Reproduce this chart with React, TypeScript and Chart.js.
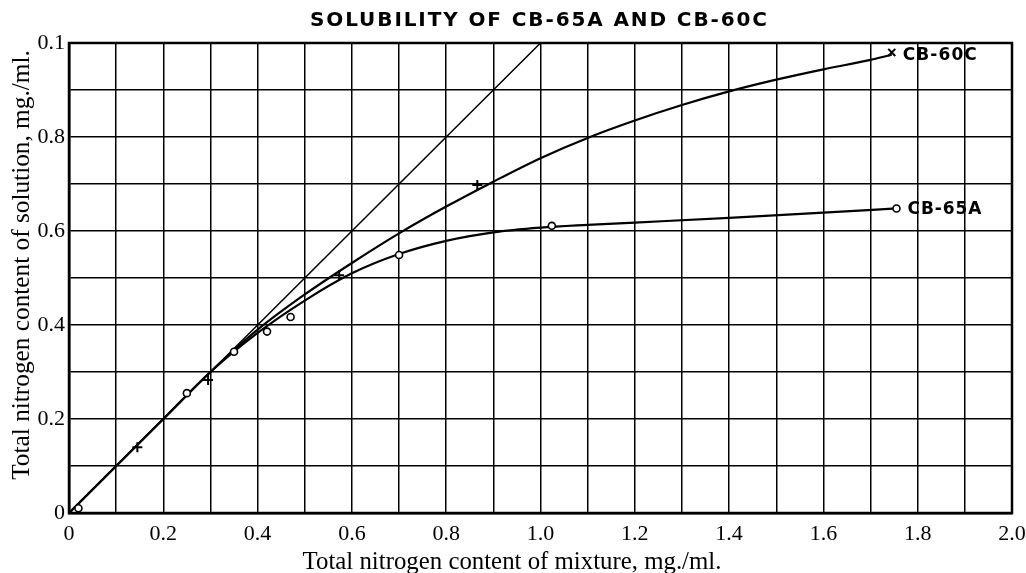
import React, { useEffect, useRef } from 'react';
import { Chart, registerables } from 'chart.js';

Chart.register(...registerables);

const titleText = 'SOLUBILITY OF CB-65A AND CB-60C';
const xAxisTitle = 'Total nitrogen content of mixture, mg./ml.';
const yAxisTitle = 'Total nitrogen content of solution, mg./ml.';
const xTickLabels = ['0', '0.2', '0.4', '0.6', '0.8', '1.0', '1.2', '1.4', '1.6', '1.8', '2.0'];
const yTickLabels = ['0', '0.2', '0.4', '0.6', '0.8', '0.1'];
const seriesNames = ['CB-65A', 'CB-60C'];

const diagonalX = [0, 1.0];
const diagonalY = [0, 1.0];

const cb65aCurveX = [0, 0.1, 0.2, 0.3, 0.4, 0.5, 0.6, 0.7, 0.8, 0.9, 1.0, 1.1, 1.2, 1.4, 1.6, 1.755];
const cb65aCurveY = [0, 0.1, 0.2, 0.3, 0.383, 0.452, 0.51, 0.551, 0.579, 0.597, 0.607, 0.613, 0.618, 0.628, 0.639, 0.648];

const cb60cCurveX = [0, 0.1, 0.2, 0.3, 0.4, 0.5, 0.6, 0.7, 0.8, 0.9, 1.0, 1.1, 1.2, 1.3, 1.4, 1.5, 1.6, 1.7, 1.745];
const cb60cCurveY = [0, 0.1, 0.2, 0.3, 0.39, 0.465, 0.532, 0.595, 0.652, 0.705, 0.755, 0.798, 0.835, 0.868, 0.897, 0.922, 0.944, 0.964, 0.975];

const cb65aPointX = [0.02, 0.25, 0.35, 0.42, 0.47, 0.7, 1.024, 1.755];
const cb65aPointY = [0.01, 0.255, 0.343, 0.386, 0.417, 0.549, 0.611, 0.648];

const cb60cPointX = [0.145, 0.295, 0.573, 0.866, 1.745];
const cb60cPointY = [0.14, 0.283, 0.506, 0.698, 0.98];
const cb60cPointStyles = ['cross', 'cross', 'cross', 'cross', 'crossRot'];

const zip = (xs: number[], ys: number[]) => xs.map((x, i) => ({ x, y: ys[i] }));

function fitText(ctx: CanvasRenderingContext2D, text: string, target: number) {
  (ctx as any).letterSpacing = '0px';
  const w0 = ctx.measureText(text).width;
  const sp = (target - w0) / (text.length - 1);
  (ctx as any).letterSpacing = `${sp}px`;
}

const annotPlugin = {
  id: 'annot',
  afterDatasetsDraw(chart: any) {
    const { ctx, chartArea, scales } = chart;
    const xs = scales.x;
    const ys = scales.y;
    ctx.save();
    // frame
    ctx.strokeStyle = '#000';
    ctx.lineWidth = 2.5;
    ctx.strokeRect(chartArea.left, chartArea.top, chartArea.right - chartArea.left, chartArea.bottom - chartArea.top);

    ctx.fillStyle = '#000';
    // title
    ctx.font = 'bold 20px "DejaVu Sans"';
    ctx.textBaseline = 'middle';
    ctx.textAlign = 'left';
    fitText(ctx, titleText, 457);
    ctx.fillText(titleText, 310, 21);

    // series labels
    ctx.font = 'bold 17px "DejaVu Sans"';
    const lx1 = xs.getPixelForValue(cb60cPointX[cb60cPointX.length - 1]);
    const ly1 = ys.getPixelForValue(cb60cPointY[cb60cPointY.length - 1]);
    fitText(ctx, seriesNames[1], 74);
    ctx.fillText(seriesNames[1], lx1 + 11, ly1 + 3);
    const lx2 = xs.getPixelForValue(cb65aPointX[cb65aPointX.length - 1]);
    const ly2 = ys.getPixelForValue(cb65aPointY[cb65aPointY.length - 1]);
    fitText(ctx, seriesNames[0], 74);
    ctx.fillText(seriesNames[0], lx2 + 11, ly2 + 1);
    (ctx as any).letterSpacing = '0px';

    // axis titles
    ctx.font = '24px "Liberation Serif"';
    ctx.textAlign = 'center';
    const wx = ctx.measureText(xAxisTitle).width;
    const fx = 24 * 419 / wx;
    ctx.font = `${fx}px "Liberation Serif"`;
    ctx.fillText(xAxisTitle, 512, 562);

    ctx.font = '24px "Liberation Serif"';
    const wy = ctx.measureText(yAxisTitle).width;
    const fy = 24 * 430 / wy;
    ctx.font = `${fy}px "Liberation Serif"`;
    ctx.translate(22, 265);
    ctx.rotate(-Math.PI / 2);
    ctx.fillText(yAxisTitle, 0, 0);
    ctx.restore();
  },
};

export default function App() {
  const canvasRef = useRef<HTMLCanvasElement | null>(null);

  useEffect(() => {
    document.body.style.margin = '0';
    const canvas = canvasRef.current;
    if (!canvas) return;
    const tickFont = { family: '"Liberation Serif"', size: 22 };
    const chart = new Chart(canvas, {
      type: 'scatter',
      data: {
        datasets: [
          {
            label: 'CB-65A points',
            data: zip(cb65aPointX, cb65aPointY),
            pointStyle: 'circle',
            pointRadius: 3.5,
            pointBorderWidth: 1.6,
            borderColor: '#000',
            backgroundColor: '#fff',
            showLine: false,
            clip: false,
            order: 0,
          } as any,
          {
            label: 'CB-60C points',
            data: zip(cb60cPointX, cb60cPointY),
            pointStyle: cb60cPointStyles,
            pointRadius: 5,
            pointBorderWidth: 2,
            borderColor: '#000',
            backgroundColor: '#000',
            showLine: false,
            clip: false,
            order: 0,
          } as any,
          {
            label: seriesNames[0],
            data: zip(cb65aCurveX, cb65aCurveY),
            showLine: true,
            pointRadius: 0,
            borderColor: '#000',
            borderWidth: 2.2,
            cubicInterpolationMode: 'monotone',
            fill: false,
            order: 1,
          } as any,
          {
            label: seriesNames[1],
            data: zip(cb60cCurveX, cb60cCurveY),
            showLine: true,
            pointRadius: 0,
            borderColor: '#000',
            borderWidth: 2.2,
            cubicInterpolationMode: 'monotone',
            fill: false,
            order: 1,
          } as any,
          {
            label: 'diagonal',
            data: zip(diagonalX, diagonalY),
            showLine: true,
            pointRadius: 0,
            borderColor: '#000',
            borderWidth: 1.5,
            fill: false,
            order: 1,
          } as any,
        ],
      },
      options: {
        animation: false,
        responsive: false,
        devicePixelRatio: 1,
        layout: { padding: { left: 0, top: 43, right: 14, bottom: 0 } },
        plugins: {
          legend: { display: false },
          tooltip: { enabled: false },
          title: { display: false },
        },
        scales: {
          x: {
            type: 'linear',
            min: 0,
            max: 2,
            afterFit: (s: any) => { s.height = 60; s.paddingLeft = 0; s.paddingRight = 0; },
            ticks: {
              stepSize: 0.1,
              autoSkip: false,
              maxRotation: 0,
              padding: 8,
              color: '#000',
              font: tickFont,
              callback: (v: any) => {
                const i = Math.round(Number(v) * 10);
                return i % 2 === 0 ? xTickLabels[i / 2] : '';
              },
            },
            grid: { color: '#000', lineWidth: 1.5, drawTicks: false },
            border: { color: '#000', width: 2.5 },
          },
          y: {
            type: 'linear',
            min: 0,
            max: 1,
            afterFit: (s: any) => { s.width = 69; s.paddingTop = 0; s.paddingBottom = 0; },
            ticks: {
              stepSize: 0.1,
              autoSkip: false,
              padding: 4,
              color: '#000',
              font: tickFont,
              callback: (v: any) => {
                const i = Math.round(Number(v) * 10);
                return i % 2 === 0 ? yTickLabels[i / 2] : '';
              },
            },
            grid: { color: '#000', lineWidth: 1.5, drawTicks: false },
            border: { color: '#000', width: 2.5 },
          },
        },
      } as any,
      plugins: [annotPlugin],
    });
    return () => chart.destroy();
  }, []);

  return (
    <div style={{ width: 1026, height: 573, background: '#fff' }}>
      <canvas ref={canvasRef} width={1026} height={573} style={{ display: 'block' }} />
    </div>
  );
}
